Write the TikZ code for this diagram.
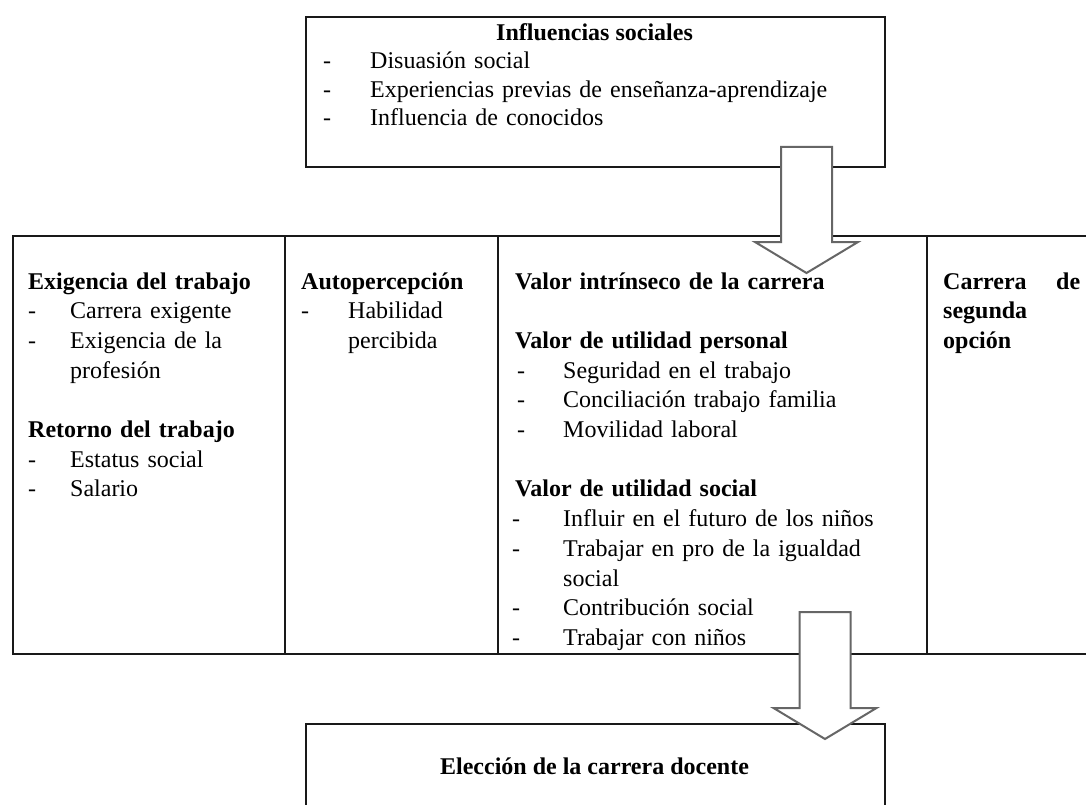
\documentclass[tikz,border=0pt]{standalone}
\usepackage{fontspec}
\setmainfont{Liberation Serif}
\usetikzlibrary{calc}

% guion de lista con sangria colgante
\newcommand{\guion}[1]{\makebox[#1][l]{-}}
% flecha de bloque: #1 = centro superior, #2 = punta
\newcommand{\flecha}[2]{%
  \draw[flechabloque] ($(#1)+(-25.5,0)$) -- ($(#1)+(25.5,0)$)
    -- ($(#2)+(25.5,-31)$) -- ($(#2)+(51.5,-31)$) -- (#2)
    -- ($(#2)+(-51.5,-31)$) -- ($(#2)+(-25.5,-31)$) -- cycle;}

\begin{document}
\begin{tikzpicture}[x=1pt, y=-1pt]
        % ================= estilos =================
        \tikzset{
            % cajas y celdas de la tabla
            caja/.style={draw=black!90, line width=1.8pt, inner sep=0pt, anchor=north west},
            % texto de las celdas
            texto/.style={inner sep=0pt, anchor=base west, align=left, font=\fontsize{24}{29.7}\selectfont},
            % flechas gruesas blancas
            flechabloque/.style={draw=black!60, line width=2pt, fill=white, line join=miter}
        }
        \useasboundingbox (0,0) rectangle (1086,805);
        \clip (0,0) rectangle (1086,805);

        % ================= cajas =================
        \node[caja, minimum width=579pt, minimum height=150pt] (influencias) at (305,16) {};
        \node[caja, minimum width=272pt, minimum height=418pt] (exigencia) at (12,235) {};
        \node[caja, minimum width=213pt, minimum height=418pt] (autopercepcion) at (284,235) {};
        \node[caja, minimum width=429pt, minimum height=418pt] (valor) at (497,235) {};
        \node[caja, minimum width=171pt, minimum height=418pt] (segunda) at (926,235) {};
        \node[caja, minimum width=579pt, minimum height=94pt] (eleccion) at (305,723) {};

        % ================= flechas =================
        \coordinate (f1sup) at (806.5,147);
        \coordinate (f1pta) at (806.5,273);
        \coordinate (f2sup) at (825,612);
        \coordinate (f2pta) at (825,739);
        \flecha{f1sup}{f1pta}
        \flecha{f2sup}{f2pta}

        % ================= textos =================
        \node[texto, anchor=base] (tinfluencias) at (594.5,40.5) {\textbf{Influencias sociales}};
        \node[texto, text width=520pt, font=\fontsize{24}{28.5}\selectfont] (linfluencias) at (323,69)
            {\guion{47pt}Disuasión social\\
             \guion{47pt}Experiencias previas de enseñanza-aprendizaje\\
             \guion{47pt}Influencia de conocidos};

        \node[texto, text width=250pt] (texigencia) at (28,289)
            {\textbf{Exigencia del trabajo}\\
             \guion{42pt}Carrera exigente\\
             \guion{42pt}Exigencia de la\\
             \hspace*{42pt}profesión\\[29.7pt]
             \textbf{Retorno del trabajo}\\
             \guion{42pt}Estatus social\\
             \guion{42pt}Salario};

        \node[texto, text width=190pt] (tautopercepcion) at (301,289)
            {\textbf{Autopercepción}\\
             \guion{47pt}Habilidad\\
             \hspace*{47pt}percibida};

        \node[texto, text width=405pt] (tvalor) at (515,289)
            {\textbf{Valor intrínseco de la carrera}\\[29.7pt]
             \textbf{Valor de utilidad personal}\\
             \hspace*{2pt}\guion{46pt}Seguridad en el trabajo\\
             \hspace*{2pt}\guion{46pt}Conciliación trabajo familia\\
             \hspace*{2pt}\guion{46pt}Movilidad laboral\\[29.7pt]
             \textbf{Valor de utilidad social}\\
             \hspace*{-3pt}\guion{51pt}Influir en el futuro de los niños\\
             \hspace*{-3pt}\guion{51pt}Trabajar en pro de la igualdad\\
             \hspace*{48pt}social\\
             \hspace*{-3pt}\guion{51pt}Contribución social\\
             \hspace*{-3pt}\guion{51pt}Trabajar con niños};

        \node[texto, text width=137pt] (tsegunda) at (943,289)
            {\textbf{Carrera\hfill de}\\
             \textbf{segunda}\\
             \textbf{opción}};

        \node[texto, anchor=base] (televcion) at (594.5,774) {\textbf{Elección de la carrera docente}};

    \end{tikzpicture}
\end{document}
